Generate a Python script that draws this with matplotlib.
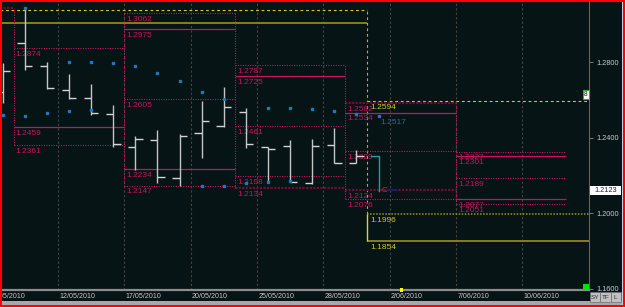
import matplotlib
matplotlib.use('Agg')
import matplotlib.pyplot as plt
from matplotlib.patches import Rectangle

plt.rcParams['font.family'] = ['Liberation Sans', 'DejaVu Sans']

BG = '#061416'
MAG = '#c8125e'
DARK_MAG = '#6e1034'

# x axis = trading days, 0 = start of 12/05/2010, bars sit in the middle of the day
bar_t = [-2.5, -1.5, -0.5, 0.5, 1.5, 2.5, 3.5, 4.5, 5.5, 6.5, 7.5, 8.5, 9.5, 10.5, 11.5, 12.5, 13.5]
bar_open = [1.2641, 1.2901, 1.2779, 1.2655, 1.2612, 1.2528, 1.2350, 1.2388, 1.2185, 1.2424, 1.2463,
            1.2538, 1.2350, 1.2357, 1.2162, 1.2360, 1.2268]
bar_high = [1.2795, 1.3093, 1.2802, 1.2738, 1.2683, 1.2574, 1.2410, 1.2441, 1.2419, 1.2595, 1.2668,
            1.2556, 1.2353, 1.2388, 1.2394, 1.2450, 1.2335]
bar_low = [1.2586, 1.2758, 1.2657, 1.2604, 1.2521, 1.2353, 1.2229, 1.2162, 1.2145, 1.2295, 1.2456,
           1.2344, 1.2167, 1.2167, 1.2155, 1.2265, 1.2265]
bar_close = [1.2754, 1.2779, 1.2665, 1.2612, 1.2530, 1.2365, 1.2392, 1.2194, 1.2410, 1.2489, 1.2562,
             1.2366, 1.2339, 1.2167, 1.2357, 1.2268, 1.2304]

# bar still forming
cur_t = 14.5
cur_open = 1.2304
cur_low = 1.2120
last_price = 1.2123

date_t = [-3, 0, 3, 6, 9, 12, 15, 18, 21]
date_labels = ['7/05/2010', '12/05/2010', '17/05/2010', '20/05/2010', '25/05/2010',
               '28/05/2010', '2/06/2010', '7/06/2010', '10/06/2010']

# blue dots
upper_dot_t = [0.5, 1.5, 2.5, 3.5, 4.5, 5.5, 6.5, 7.5, 9.5, 10.5, 11.5, 12.5, 13.5, 14.5]
upper_dot_p = [1.2802, 1.2802, 1.2798, 1.2780, 1.2745, 1.2699, 1.2643, 1.2604, 1.2559, 1.2559,
               1.2553, 1.2540, 1.2526, 1.2517]
lower_dot_t = [-2.5, -1.5, -0.5, 0.5, 1.5, 6.5, 7.5, 8.5, 9.5, 10.5]
lower_dot_p = [1.2519, 1.2517, 1.2530, 1.2540, 1.2547, 1.2145, 1.2145, 1.2159, 1.2167, 1.2173]
top_dot_t = [-1.5]
top_dot_p = [1.3086]

# weekly level boxes
week_start = [-2.6, -2, 3, 8, 13, 18]
week_end = [-2, 3, 8, 13, 18, 23]
week_levels = [
    [1.3088],
    [1.2874, 1.2459, 1.2361],
    [1.3062, 1.2975, 1.2605, 1.2234, 1.2147],
    [1.2787, 1.2725, 1.2461, 1.2198, 1.2134],
    [1.2582, 1.2534, 1.2329, 1.2124, 1.2076],
    [1.2327, 1.2301, 1.2189, 1.2077, 1.2051],
]
week_styles = [
    ['dark'],
    ['dot', 'solid', 'dot'],
    ['dot', 'solid', 'dot', 'solid', 'dot'],
    ['dot', 'solid', 'dot', 'dot', 'dark'],
    ['dark', 'solid', 'dot', 'dark', 'dot'],
    ['dot', 'solid', 'dot', 'solid', 'dot'],
]

# monthly levels (yellow)
month_split = 14
may_levels = [1.3077, 1.3007]
may_styles = ['ydash', 'olive']
jun_levels = [1.2594, 1.1996, 1.1854]
jun_styles = ['ydash', 'ydot', 'olive']

styles = {
    'dot': dict(color=MAG, lw=0.8, ls=(0, (1, 1.2))),
    'solid': dict(color=MAG, lw=0.9, ls='-'),
    'dark': dict(color=DARK_MAG, lw=1.6, ls=(0, (1, 0.6))),
    'ydash': dict(color='#d8cc10', lw=0.8, ls=(0, (2.5, 2.5))),
    'ydot': dict(color='#9c9420', lw=1.1, ls=(0, (1, 1))),
    'olive': dict(color='#8a7e1c', lw=1.4, ls='-'),
}

fig = plt.figure(figsize=(6.25, 3.07), dpi=100, facecolor=BG)
ax = fig.add_axes([2 / 625, 17 / 307, 587 / 625, 288 / 307])
ax.set_facecolor(BG)
ax.set_xlim(-2.53, 24.02)
ax.set_ylim(1.15936, 1.31195)

for s in ['top', 'left']:
    ax.spines[s].set_visible(False)
ax.spines['bottom'].set_color('#8c8c8c')
ax.spines['bottom'].set_linewidth(1.6)
ax.spines['right'].set_color('#6a6458')
ax.spines['right'].set_linewidth(0.8)

ax.tick_params(axis='x', bottom=False, labelbottom=False)
ax.yaxis.tick_right()
ax.set_yticks([1.16, 1.20, 1.24, 1.28])
ax.set_yticklabels(['%.4f' % v for v in [1.16, 1.20, 1.24, 1.28]])
ax.tick_params(axis='y', length=3, width=0.6, color='#8a8a8a', labelcolor='#c8c8d4',
               labelsize=5.3, pad=2.5)

# date grid
for gt, lab in zip(date_t, date_labels):
    ax.axvline(gt, color='#4c4438', lw=0.8, ls=(0, (2, 2)), zorder=0.5)
    ax.text(gt + 0.07, -0.021, lab, transform=ax.get_xaxis_transform(), ha='left', va='center',
            fontsize=5.1, color='#c8c8c8', clip_on=False)

# monthly yellow box
for lvl, st in zip(may_levels, may_styles):
    ax.hlines(lvl, -2.6, month_split, zorder=1, **styles[st])
for lvl, st in zip(jun_levels, jun_styles):
    ax.hlines(lvl, month_split, 24.1, zorder=1, **styles[st])
    ax.annotate('%.4f' % lvl, (month_split, lvl), xytext=(2, -4.6), textcoords='offset points',
                ha='left', va='center', fontsize=6, color='#d0c820')
ax.vlines(month_split, jun_levels[1], may_levels[0], color='#b8b020', lw=0.8, ls=(0, (2.5, 2.5)), zorder=1)
ax.vlines(month_split, jun_levels[2], jun_levels[1], color='#d8d040', lw=1.0, zorder=1)

# weekly magenta boxes
for i in range(len(week_start)):
    s, e = week_start[i], week_end[i]
    for lvl, st in zip(week_levels[i], week_styles[i]):
        ax.hlines(lvl, s, e, zorder=2, **styles[st])
        if s > -2.53:
            ax.annotate('%.4f' % lvl, (s, lvl), xytext=(1.5, -4.6), textcoords='offset points',
                        ha='left', va='center', fontsize=6, color=MAG, zorder=2)
    if i > 0:
        both = week_levels[i - 1] + week_levels[i]
        ax.vlines(s, min(both), max(both), zorder=2, **styles['dot'])

# OHLC bars
tick = 0.33
ax.vlines(bar_t, bar_low, bar_high, color='#c4c4c4', lw=1.0, zorder=3)
ax.hlines(bar_open, [t - tick for t in bar_t], bar_t, color='#d4d4d4', lw=1.0, zorder=3)
ax.hlines(bar_close, bar_t, [t + tick for t in bar_t], color='#d4d4d4', lw=1.0, zorder=3)

# current bar
ax.plot([cur_t - tick, cur_t, cur_t], [cur_open, cur_open, cur_low], color='#1aa0a4', lw=1.0, zorder=3)
ax.text(cur_t + 0.12, last_price, 'C', color='#e0203c', fontsize=6, ha='left', va='center', zorder=4)
ax.hlines(last_price, cur_t + 0.45, cur_t + 0.85, color='#1c1c78', lw=1.3, zorder=4)

# blue dots
ax.plot(upper_dot_t, upper_dot_p, ls='none', marker='s', ms=2.0, color='#1f78c0', zorder=4)
ax.plot(lower_dot_t, lower_dot_p, ls='none', marker='s', ms=2.0, color='#1f78c0', zorder=4)
ax.plot(top_dot_t, top_dot_p, ls='none', marker='s', ms=2.0, color='#1f78c0', zorder=4)
ax.annotate('%.4f' % upper_dot_p[-1], (upper_dot_t[-1], upper_dot_p[-1]), xytext=(1.5, -5),
            textcoords='offset points', ha='left', va='center', fontsize=6, color='#1e6e9c', zorder=4)

# last price tag on the right scale
ax.add_patch(Rectangle((1.0017, last_price - 0.00238), 0.0528, 0.00476, transform=ax.get_yaxis_transform(),
                       facecolor='white', edgecolor='none', clip_on=False, zorder=6))
ax.text(1.0281, last_price, '%.4f' % last_price, transform=ax.get_yaxis_transform(), ha='center',
        va='center', fontsize=5.3, color='#202040', clip_on=False, zorder=7)

# chrome on top, in pixel coords
ov = fig.add_axes([0, 0, 1, 1], zorder=5)
ov.set_xlim(0, 625)
ov.set_ylim(307, 0)
ov.axis('off')
ov.patch.set_alpha(0)

ov.add_patch(Rectangle((2, 301), 619.5, 4, facecolor='#a8a8a8', edgecolor='none'))
ov.add_patch(Rectangle((621.5, 0), 1.8, 307, facecolor='#c4d0dc', edgecolor='none'))
for (x0, w, lab) in [(589.5, 10.5, 'SY'), (600, 10.5, 'TF'), (610.5, 10.5, 'L')]:
    ov.add_patch(Rectangle((x0, 292), w, 10, facecolor='#c0c0c0', edgecolor='#707070', lw=0.5))
    ov.text(x0 + w / 2, 297.2, lab, ha='center', va='center', fontsize=4.6, color='#303030')
ov.add_patch(Rectangle((583, 90), 6, 9, facecolor='white', edgecolor='#30b030', lw=0.8))
ov.text(586, 94.8, '8', ha='center', va='center', fontsize=4.8, color='#101010')
ov.add_patch(Rectangle((583, 284), 6, 6, facecolor='#00e000', edgecolor='none'))
ov.add_patch(Rectangle((399.5, 288), 3, 3.5, facecolor='#ffff00', edgecolor='none'))

# red frame
for r in [(0, 0, 1.6, 307), (0, 0, 625, 1.6), (623.3, 0, 1.7, 307), (0, 305.2, 625, 1.8)]:
    ov.add_patch(Rectangle((r[0], r[1]), r[2], r[3], facecolor='#ff0000', edgecolor='none'))

fig.savefig('out.png', dpi=100, facecolor=BG)
